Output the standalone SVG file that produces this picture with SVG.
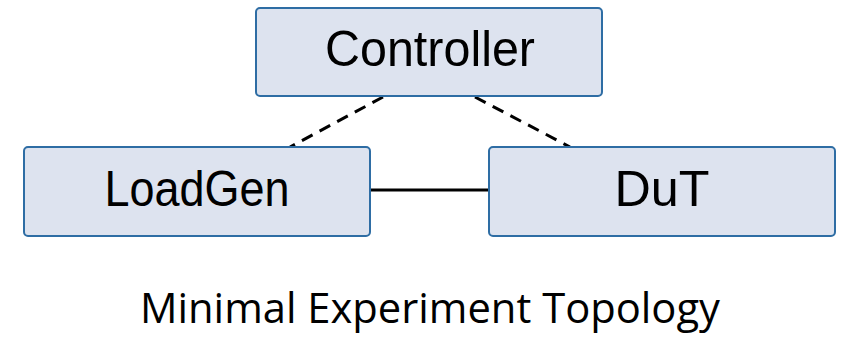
<svg xmlns="http://www.w3.org/2000/svg" width="843" height="341" viewBox="0 0 843 341">
  <style>
    .box { fill: #dde3ef; stroke: #2e6da4; stroke-width: 2; }
    .label { font-family: "Liberation Sans", Arial, sans-serif; font-size: 50px; fill: #000; text-anchor: middle; }
    .title { font-family: "Open Sans", "Liberation Sans", sans-serif; font-size: 42px; fill: #000; text-anchor: middle; }
    .link { stroke: #000; stroke-width: 3; fill: none; }
    .dashed { stroke-dasharray: 12 8; }
  </style>
  <rect width="843" height="341" fill="#fff"/>
  <g id="connectors">
    <line class="link dashed" x1="383" y1="97" x2="290" y2="147"/>
    <line class="link dashed" x1="475" y1="97" x2="570" y2="147"/>
    <line class="link" x1="371" y1="190" x2="488" y2="190"/>
  </g>
  <g id="controller">
    <rect class="box" x="256" y="8" width="346" height="88" rx="4"/>
    <text class="label" x="430" y="66" textLength="210" lengthAdjust="spacingAndGlyphs">Controller</text>
  </g>
  <g id="loadgen">
    <rect class="box" x="24" y="147" width="346" height="89" rx="4"/>
    <text class="label" x="197" y="206" textLength="185" lengthAdjust="spacingAndGlyphs">LoadGen</text>
  </g>
  <g id="dut">
    <rect class="box" x="489" y="147" width="346" height="89" rx="4"/>
    <text class="label" x="662" y="206" textLength="95" lengthAdjust="spacingAndGlyphs">DuT</text>
  </g>
  <text class="title" x="430" y="323" textLength="580" lengthAdjust="spacingAndGlyphs">Minimal Experiment Topology</text>
</svg>
